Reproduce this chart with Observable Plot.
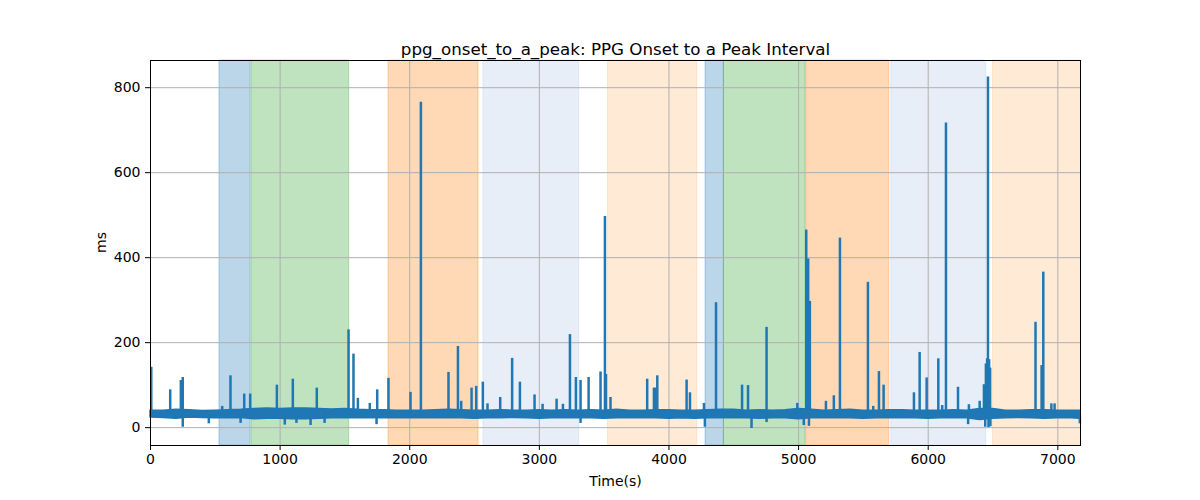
<!DOCTYPE html>
<html>
<head>
<meta charset="utf-8">
<script src="https://cdn.jsdelivr.net/npm/d3@7"></script>
<script src="https://cdn.jsdelivr.net/npm/@observablehq/plot@0.6"></script>
<style>
  body { margin: 0; background: #fff; }
  svg { font-family: "DejaVu Sans", sans-serif; }
</style>
</head>
<body>
<div id="chart"></div>
<script>
const titleText = "ppg_onset_to_a_peak: PPG Onset to a Peak Interval";
const xLabel = "Time(s)";
const yLabel = "ms";
const xTicks = [0, 1000, 2000, 3000, 4000, 5000, 6000, 7000];
const yTicks = [0, 200, 400, 600, 800];

// shaded stage spans
const spanStart = [532, 779, 1836, 2569, 3529, 4282, 4424, 5059, 5715, 6500];
const spanEnd   = [772, 1533, 2531, 3308, 4219, 4424, 5054, 5700, 6448, 7180];
const spanColor = ["#1f77b4", "#2ca02c", "#ff7f0e", "#aec7e8", "#ffbb78",
                   "#1f77b4", "#2ca02c", "#ff7f0e", "#aec7e8", "#ffbb78"];

// baseline noise envelope (every 100 s)
const bandT = [0,100,200,300,400,500,600,700,800,900,1000,1100,1200,1300,1400,1500,1600,1700,1800,1900,
  2000,2100,2200,2300,2400,2500,2600,2700,2800,2900,3000,3100,3200,3300,3400,3500,3600,3700,3800,3900,
  4000,4100,4200,4300,4400,4500,4600,4700,4800,4900,5000,5100,5200,5300,5400,5500,5600,5700,5800,5900,
  6000,6100,6200,6300,6400,6500,6600,6700,6800,6900,7000,7100,7175];
const bandLo = [24,23,21,24,23,22,22,23,20,21,21,20,20,21,22,22,23,22,23,22,
  22,23,22,23,22,21,22,22,23,22,21,22,22,22,22,21,22,23,22,22,
  21,22,21,22,22,23,22,21,22,22,20,22,23,22,22,21,22,23,22,22,
  21,22,23,22,18,21,22,23,22,21,22,22,21];
const bandHi = [40,40,42,41,39,40,41,42,44,45,44,45,45,44,43,44,42,41,41,40,
  40,40,41,42,41,40,40,41,40,40,41,40,41,40,41,40,42,40,40,41,
  41,40,40,41,42,42,40,41,40,41,44,42,40,41,42,40,40,41,41,40,
  40,40,41,40,44,44,40,40,41,41,40,40,40];

// upward spikes: time (s) and peak (ms)
const spikeT = [6,152,234,249,553,617,723,769,975,1098,1283,1528,1566,1600,1692,1749,1836,2006,2086,2299,
  2372,2397,2477,2513,2564,2600,2698,2790,2850,2963,3025,3133,3182,3236,3282,3318,3380,3472,3506,3514,
  3549,3832,3884,3895,3910,4136,4162,4270,4363,4564,4610,4753,4990,5059,5066,5074,5087,5211,5272,5319,
  5535,5576,5620,5656,5890,5934,5988,6078,6108,6137,6230,6314,6397,6430,6445,6455,6461,6470,6478,6828,
  6875,6888,6950,6975];
const spikeV = [142,89,111,118,50,122,79,79,100,114,93,230,173,69,57,89,116,83,766,130,
  191,62,93,97,107,56,71,163,107,77,55,67,55,219,118,111,118,131,497,125,
  71,114,93,93,122,112,82,57,294,100,99,236,57,465,300,397,297,62,75,446,
  342,50,132,100,82,177,117,162,52,717,95,54,62,101,150,162,825,160,140,248,
  146,366,56,56];

// downward dips: time (s) and low (ms)
const dipT = [249,450,695,1036,1126,1235,1343,1744,3318,4277,4637,4753,5040,5080,6308,6440,6465,6480,7170];
const dipV = [1,9,10,6,10,5,10,7,10,1,-2,12,5,3,7,1,0,2,9];

const spans = spanStart.map((s, i) => ({x1: s, x2: spanEnd[i], color: spanColor[i]}));
const band = bandT.map((t, i) => ({t, lo: bandLo[i], hi: bandHi[i]}));
const spikes = spikeT.map((t, i) => ({t, v: spikeV[i]}));
const dips = dipT.map((t, i) => ({t, v: dipV[i]}));

const blue = "#1f77b4";
const chart = Plot.plot({
  width: 1200,
  height: 500,
  marginLeft: 150,
  marginRight: 120,
  marginTop: 60,
  marginBottom: 55,
  style: {fontFamily: "DejaVu Sans, sans-serif", fontSize: "14px", background: "white"},
  color: {type: "identity"},
  x: {domain: [0, 7175]},
  y: {domain: [-42, 864]},
  marks: [
    Plot.rect(spans, {x1: "x1", x2: "x2", fill: "color", fillOpacity: 0.3, stroke: "color", strokeOpacity: 0.3, strokeWidth: 1}),
    Plot.gridX(xTicks, {stroke: "#b0b0b0", strokeOpacity: 1, strokeWidth: 1}),
    Plot.gridY(yTicks, {stroke: "#b0b0b0", strokeOpacity: 1, strokeWidth: 1}),
    Plot.areaY(band, {x: "t", y1: "lo", y2: "hi", fill: blue, stroke: blue, strokeWidth: 1.5}),
    Plot.ruleX(spikes, {x: "t", y1: 32, y2: "v", stroke: blue, strokeWidth: 2.5}),
    Plot.ruleX(dips, {x: "t", y1: 30, y2: "v", stroke: blue, strokeWidth: 2.5}),
    Plot.frame({stroke: "black", strokeWidth: 1}),
    Plot.axisX(xTicks, {tickSize: 5, tickPadding: 4, label: null, fontSize: 14, tickFormat: d => String(d)}),
    Plot.axisY(yTicks, {tickSize: 5, tickPadding: 5, label: null, fontSize: 14, tickFormat: d => String(d)}),
    Plot.text([titleText], {frameAnchor: "top", dy: -6, lineAnchor: "bottom", fontSize: 16.7}),
    Plot.text([xLabel], {frameAnchor: "bottom", dy: 36, lineAnchor: "middle", fontSize: 14}),
    Plot.text([yLabel], {frameAnchor: "left", dx: -49, rotate: -90, lineAnchor: "middle", fontSize: 14})
  ]
});
document.getElementById("chart").appendChild(chart);
</script>
</body>
</html>
